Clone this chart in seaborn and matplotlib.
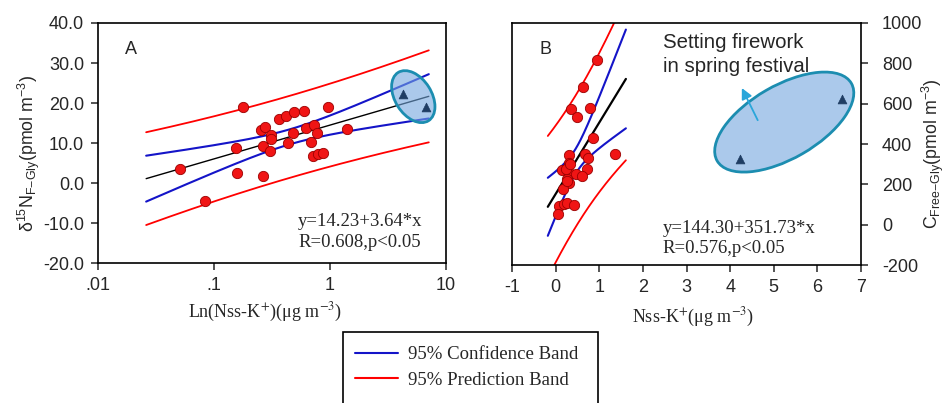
import numpy as np
import matplotlib
matplotlib.use("Agg")
import matplotlib.pyplot as plt
import matplotlib.transforms as mtransforms
from matplotlib.patches import Ellipse, Rectangle
from matplotlib.lines import Line2D
import seaborn as sns

# ---- panel A: delta15N vs Nss-K+ (log axis) ----
a_x = [0.051, 0.084, 0.156, 0.159, 0.177, 0.256, 0.277, 0.266, 0.266, 0.310,
       0.312, 0.306, 0.361, 0.418, 0.432, 0.480, 0.493, 0.593, 0.625, 0.686,
       0.723, 0.713, 0.772, 0.788, 0.871, 0.968, 1.40]
a_y = [3.5, -4.5, 8.8, 2.4, 19.1, 13.2, 14.1, 9.2, 1.8, 12.1,
       11.0, 8.1, 16.0, 16.8, 9.9, 12.6, 17.8, 17.9, 13.8, 10.3,
       14.6, 6.8, 12.4, 7.2, 7.4, 19.1, 13.6]
a_fw_x = [4.26, 6.68]
a_fw_y = [22.2, 19.1]

# ---- panel B: C_Free-Gly vs Nss-K+ (some dots overlap in the cluster) ----
b_x = [0.957, 0.62, 0.352, 0.789, 0.482, 0.865, 0.299, 0.674, 1.37, 0.75,
       0.30, 0.153, 0.29, 0.712, 0.467, 0.597, 0.268, 0.299, 0.176, 0.077,
       0.191, 0.253, 0.421, 0.054, 0.245, 0.33, 0.266]
b_y = [818, 684, 576, 578, 536, 429, 344, 351, 353, 329,
       305, 272, 268, 275, 250, 242, 225, 205, 177, 94,
       103, 109, 98, 53, 278, 300, 215]
b_fw_x = [4.22, 6.57]
b_fw_y = [326, 623]

a_range = (0.026, 7.1)
b_range = (-0.18, 1.61)

a_xticks = [0.01, 0.1, 1, 10]
a_xticklabels = [".01", ".1", "1", "10"]
a_yticks = [-20, -10, 0, 10, 20, 30, 40]
b_xticks = [-1, 0, 1, 2, 3, 4, 5, 6, 7]
b_yticks = [-200, 0, 200, 400, 600, 800, 1000]


def fit_bands(x, y, xs):
    x = np.asarray(x, float)
    y = np.asarray(y, float)
    n = len(x)
    slope, icpt = np.polyfit(x, y, 1)
    s = np.sqrt(np.sum((y - (icpt + slope * x)) ** 2) / (n - 2))
    sxx = np.sum((x - x.mean()) ** 2)
    z = 1.959964
    df = n - 2
    t = z + (z**3 + z) / (4 * df) + (5 * z**5 + 16 * z**3 + 3 * z) / (96 * df**2)
    yh = icpt + slope * xs
    c = t * s * np.sqrt(1 / n + (xs - x.mean()) ** 2 / sxx)
    p = t * s * np.sqrt(1 + 1 / n + (xs - x.mean()) ** 2 / sxx)
    return yh, yh - c, yh + c, yh - p, yh + p


sns.set_style("ticks")
plt.rcParams["font.family"] = ["Liberation Sans", "DejaVu Sans"]
plt.rcParams["axes.unicode_minus"] = False
plt.rcParams["mathtext.fontset"] = "custom"
plt.rcParams["mathtext.rm"] = "Liberation Sans"
plt.rcParams["mathtext.it"] = "Liberation Sans:italic"
plt.rcParams["axes.linewidth"] = 1.2

RED = "#ff0000"
BLUE = "#1414c8"
DOT = "#f01515"
TRI = "#1f3d63"
SERIF = "Liberation Serif"

fig = plt.figure(figsize=(9.47, 4.03), dpi=100)
axA = fig.add_axes([0.1035, 0.347, 0.3675, 0.596])
axB = fig.add_axes([0.5407, 0.342, 0.3685, 0.601])

# ---------- A ----------
axA.set_xscale("log")
fw_a = np.array(a_x + a_fw_x)
fw_ay = np.array(a_y + a_fw_y)
xs = np.geomspace(a_range[0], a_range[1], 200)
yh, cl, ch, pl, ph = fit_bands(np.log(fw_a), fw_ay, np.log(xs))
for yy, col, lw in [(pl, RED, 1.3), (ph, RED, 1.3), (cl, BLUE, 1.5), (ch, BLUE, 1.5), (yh, "black", 1.0)]:
    sns.lineplot(x=xs, y=yy, color=col, lw=lw, ax=axA, sort=False, estimator=None)

ellA = Ellipse((0, 0), 0.57, 0.365, angle=-57.7,
               transform=fig.dpi_scale_trans + mtransforms.ScaledTranslation(5.22, 21.6, axA.transData),
               facecolor=(0.45, 0.65, 0.87, 0.6), edgecolor="#1c8db0", lw=2, zorder=2.5)
axA.add_patch(ellA)
sns.scatterplot(x=a_x, y=a_y, color=DOT, edgecolor="#9a0000", linewidth=0.6, s=55, ax=axA, zorder=3)
sns.scatterplot(x=a_fw_x, y=a_fw_y, color=TRI, marker="^", edgecolor=TRI, s=40, ax=axA, zorder=4)

axA.set_xlim(0.01, 10)
axA.set_ylim(-20, 40)
axA.set_xticks(a_xticks)
axA.set_xticklabels(a_xticklabels)
axA.xaxis.set_minor_locator(matplotlib.ticker.NullLocator())
axA.set_yticks(a_yticks)
axA.set_yticklabels([f"{v:.1f}" for v in a_yticks])
axA.tick_params(direction="out", length=5, width=1.1, labelsize=13, pad=5)
axA.text(0.078, 0.89, "A", transform=axA.transAxes, fontsize=13, va="center")
axA.text(0.575, 0.172, "y=14.23+3.64*x", transform=axA.transAxes, fontsize=13.5,
         family=SERIF, va="center")
axA.text(0.575, 0.086, "R=0.608,p<0.05", transform=axA.transAxes, fontsize=13.5,
         family=SERIF, va="center")
axA.set_xlabel("Ln(Nss-K$^{+}$)(μg m$^{-3}$)", family=SERIF, fontsize=13,
               math_fontfamily="stix")
axA.xaxis.set_label_coords(0.48, -0.155)
axA.set_ylabel("δ$^{15}$N$_{\\mathrm{F{-}Gly}}$(pmol m$^{-3}$)", fontsize=12.8)
axA.yaxis.set_label_coords(-0.16, 0.455)

# ---------- B ----------
xs = np.linspace(b_range[0], b_range[1], 200)
yh, cl, ch, pl, ph = fit_bands(b_x, b_y, xs)
for yy, col, lw in [(pl, RED, 1.3), (ph, RED, 1.3), (cl, BLUE, 1.5), (ch, BLUE, 1.5), (yh, "black", 1.6)]:
    sns.lineplot(x=xs, y=yy, color=col, lw=lw, ax=axB, sort=False, estimator=None)
sns.scatterplot(x=b_x, y=b_y, color=DOT, edgecolor="#9a0000", linewidth=0.6, s=55, ax=axB, zorder=3)

ellB = Ellipse((0, 0), 1.55, 0.73, angle=30,
               transform=fig.dpi_scale_trans + mtransforms.ScaledTranslation(5.24, 509, axB.transData),
               facecolor=(0.45, 0.65, 0.87, 0.6), edgecolor="#1c8db0", lw=2, zorder=2.5)
axB.add_patch(ellB)
sns.scatterplot(x=b_fw_x, y=b_fw_y, color=TRI, marker="^", edgecolor=TRI, s=40, ax=axB, zorder=4)
axB.annotate("", xy=(4.24, 690), xytext=(4.66, 506),
             arrowprops=dict(arrowstyle="-|>", color="#2aa6da", lw=1.3, mutation_scale=16))

axB.set_xlim(-1, 7)
axB.set_ylim(-200, 1000)
axB.set_xticks(b_xticks)
axB.set_yticks(b_yticks)
axB.yaxis.tick_right()
axB.tick_params(direction="out", length=5, width=1.1, labelsize=13, pad=5)
axB.tick_params(axis="y", pad=10)
axB.text(0.08, 0.89, "B", transform=axB.transAxes, fontsize=13, va="center")
axB.text(0.432, 0.919, "Setting firework", transform=axB.transAxes, fontsize=14.7, va="center")
axB.text(0.432, 0.819, "in spring festival", transform=axB.transAxes, fontsize=14.7, va="center")
axB.text(0.432, 0.152, "y=144.30+351.73*x", transform=axB.transAxes, fontsize=13.5,
         family=SERIF, va="center")
axB.text(0.432, 0.069, "R=0.576,p<0.05", transform=axB.transAxes, fontsize=13.5,
         family=SERIF, va="center")
axB.set_xlabel("Nss-K$^{+}$(μg m$^{-3}$)", family=SERIF, fontsize=13, math_fontfamily="stix")
axB.xaxis.set_label_coords(0.52, -0.17)
axB.yaxis.set_label_position("right")
axB.set_ylabel("C$_{\\mathrm{Free{-}Gly}}$(pmol m$^{-3}$)", fontsize=12.8)
axB.yaxis.set_label_coords(1.168, 0.46)

for ax in (axA, axB):
    for sp in ax.spines.values():
        sp.set_visible(True)
        sp.set_color("black")

# legend box runs past the bottom edge, as in the source figure
fig.patches.append(Rectangle((343 / 947, -0.02), (598 - 343) / 947, 0.02 + (403 - 332) / 403,
                             transform=fig.transFigure, fill=False, edgecolor="black", lw=1.2))
handles = [Line2D([], [], color=BLUE, lw=1.5), Line2D([], [], color=RED, lw=1.5)]
fig.legend(handles, ["95% Confidence Band", "95% Prediction Band"],
           loc="upper left", bbox_to_anchor=(355 / 947, 1 - 346 / 403),
           prop={"family": SERIF, "size": 13.5}, frameon=False,
           handlelength=2.3, handletextpad=0.5, borderpad=0, labelspacing=0.46, borderaxespad=0)

fig.savefig("out.png", dpi=100)
